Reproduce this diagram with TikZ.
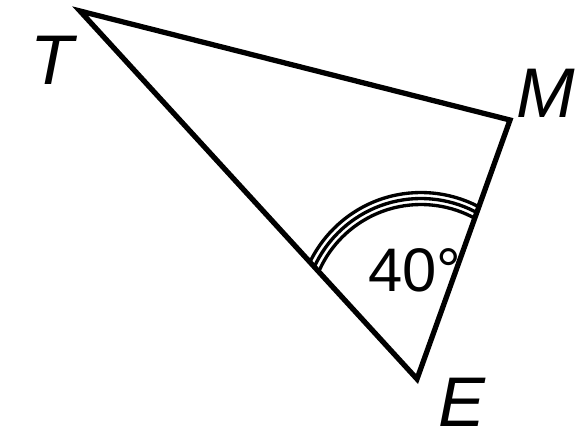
\documentclass[tikz,border=0pt]{standalone}
\usepackage{fontspec}
\setmainfont{Liberation Sans}
\usetikzlibrary{calc}

\tikzset{
    vertexlabel/.style={inner sep=0pt,font=\fontsize{20}{24}\selectfont\itshape},
    anglelabel/.style={inner sep=0pt,font=\fontsize{17.5}{21}\selectfont}
}

\begin{document}
\begin{tikzpicture}
        \useasboundingbox (0,0) rectangle (5.75,-4.41);
        \coordinate (T) at (0.80,-0.11);
        \coordinate (M) at (5.10,-1.20);
        \coordinate (E) at (4.17,-3.79);
        \coordinate (O) at (4.21,-3.16);

        \draw[line width=1.5pt,line join=miter] (T)--(M)--(E)--cycle;

        % triple arc for the angle at E, cut off by the sides
        \begin{scope}
            \clip (T)--(M)--(E)--cycle;
            \foreach \r in {1.115,1.175,1.235}
                \draw[line width=0.95pt] ($(O)+(40:\r)$) arc (40:170:\r);
        \end{scope}

        \node[vertexlabel] (lblT) at (0.52,-0.60) {T};
        \node[vertexlabel] (lblM) at (5.46,-0.93) {M};
        \node[vertexlabel] (lblE) at (4.62,-4.02) {E};
        \node[anglelabel] (lblangle) at (4.15,-2.70) {40°};
    \end{tikzpicture}
\end{document}
